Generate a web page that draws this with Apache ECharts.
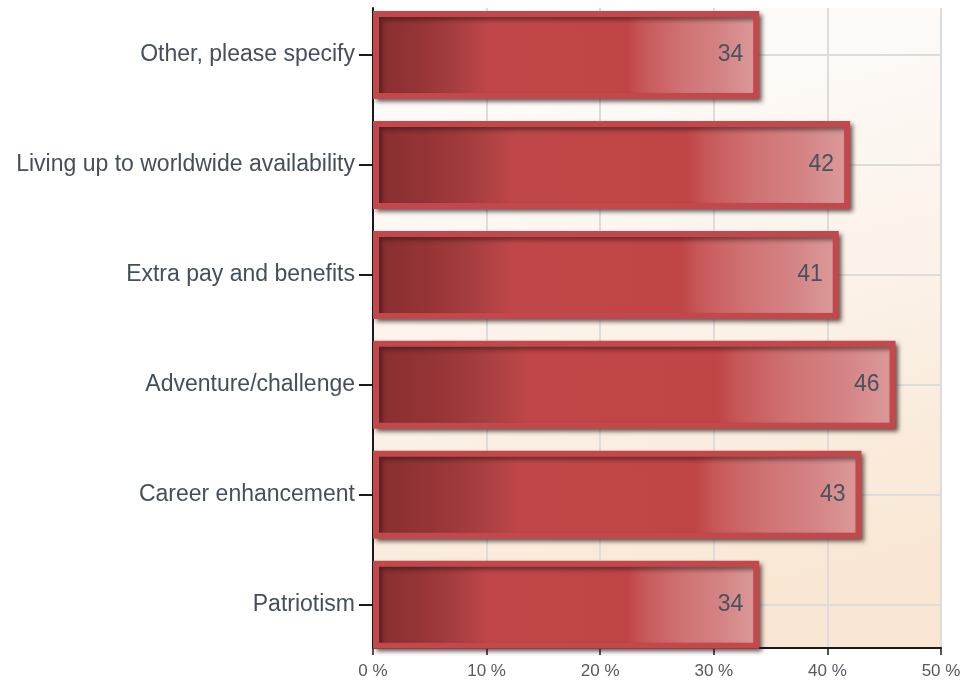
<!DOCTYPE html>
<html>
<head>
<meta charset="utf-8">
<style>
  html, body { margin: 0; padding: 0; background: #ffffff; }
  #chart { width: 964px; height: 684px; }
</style>
<script src="https://cdn.jsdelivr.net/npm/echarts@6/dist/echarts.min.js"></script>
</head>
<body>
<div id="chart"></div>
<script>
// Reasons given, listed from the top row of the chart down
const categories = [
  'Other, please specify',
  'Living up to worldwide availability',
  'Extra pay and benefits',
  'Adventure/challenge',
  'Career enhancement',
  'Patriotism'
];
// Share of respondents, in percent
const values = [34, 42, 41, 46, 43, 34];
// Percentage axis
const axisMin = 0;
const axisMax = 50;
const axisStep = 10;

const FONT = '"Liberation Sans", Arial, sans-serif';
const PLOT_LEFT = 373;
const PLOT_RIGHT = 23;

const chart = echarts.init(document.getElementById('chart'), null, { renderer: 'canvas' });

// Horizontal guide lines pass through the middle of each category
const guideLines = categories.map(c => ({ yAxis: c }));

chart.setOption({
  animation: false,
  backgroundColor: '#ffffff',
  grid: [
    {
      // plot frame: background, percentage axis and vertical guides
      left: PLOT_LEFT, right: PLOT_RIGHT, top: 8, height: 640,
      show: true,
      borderWidth: 0,
      backgroundColor: new echarts.graphic.LinearGradient(0, 0, 0.3, 1, [
        { offset: 0, color: '#fefefe' },
        { offset: 0.45, color: '#fcf5ef' },
        { offset: 1, color: '#f9e7d4' }
      ])
    },
    {
      // bar rows
      left: PLOT_LEFT, right: PLOT_RIGHT, top: -2.7, height: 662.4
    }
  ],
  xAxis: [
    {
      gridIndex: 0,
      type: 'value',
      min: axisMin, max: axisMax, interval: axisStep,
      axisLine: { show: true, lineStyle: { color: '#1a1a1a', width: 2 } },
      axisTick: { show: true, length: 7, lineStyle: { color: '#1a1a1a', width: 1.5 } },
      axisLabel: {
        formatter: '{value} %',
        fontFamily: FONT, fontSize: 17, color: '#555a60', margin: 15
      },
      splitLine: { show: true, lineStyle: { color: '#dcdcdc', width: 2 } }
    },
    {
      gridIndex: 1,
      type: 'value',
      min: axisMin, max: axisMax,
      show: false
    }
  ],
  yAxis: [
    {
      gridIndex: 0,
      type: 'value',
      min: 0, max: 1,
      axisLine: { show: true, lineStyle: { color: '#1a1a1a', width: 2 } },
      axisTick: { show: false },
      axisLabel: { show: false },
      splitLine: { show: false }
    },
    {
      gridIndex: 1,
      type: 'category',
      inverse: true,
      data: categories,
      axisLine: { show: false },
      axisTick: { show: true, alignWithLabel: true, length: 14, lineStyle: { color: '#1a1a1a', width: 2 } },
      axisLabel: { fontFamily: FONT, fontSize: 23, color: '#434f5b', margin: 18 },
      splitLine: { show: false }
    }
  ],
  series: [
    {
      type: 'bar',
      xAxisIndex: 1,
      yAxisIndex: 1,
      data: values,
      barWidth: 88,
      z: 3,
      itemStyle: {
        color: new echarts.graphic.LinearGradient(0, 0, 1, 0, [
          { offset: 0, color: '#882e30' },
          { offset: 0.12, color: '#953436' },
          { offset: 0.22, color: '#a83f41' },
          { offset: 0.3, color: '#c04749' },
          { offset: 0.66, color: '#c04547' },
          { offset: 0.7, color: '#c75859' },
          { offset: 0.8, color: '#d07273' },
          { offset: 0.9, color: '#d48384' },
          { offset: 1, color: '#dc9c9c' }
        ]),
        borderColor: '#c2484b',
        borderWidth: 6,
        shadowColor: 'rgba(40,20,20,0.55)',
        shadowBlur: 4,
        shadowOffsetX: 3,
        shadowOffsetY: 3
      },
      label: {
        show: true,
        position: 'insideRight',
        distance: 16,
        fontFamily: FONT,
        fontSize: 23,
        color: '#47525d'
      },
      markLine: {
        silent: true,
        z: 1,
        symbol: ['none', 'none'],
        label: { show: false },
        lineStyle: { color: '#dcdcdc', width: 2, type: 'solid' },
        data: guideLines
      }
    }
  ]
});
</script>
</body>
</html>
